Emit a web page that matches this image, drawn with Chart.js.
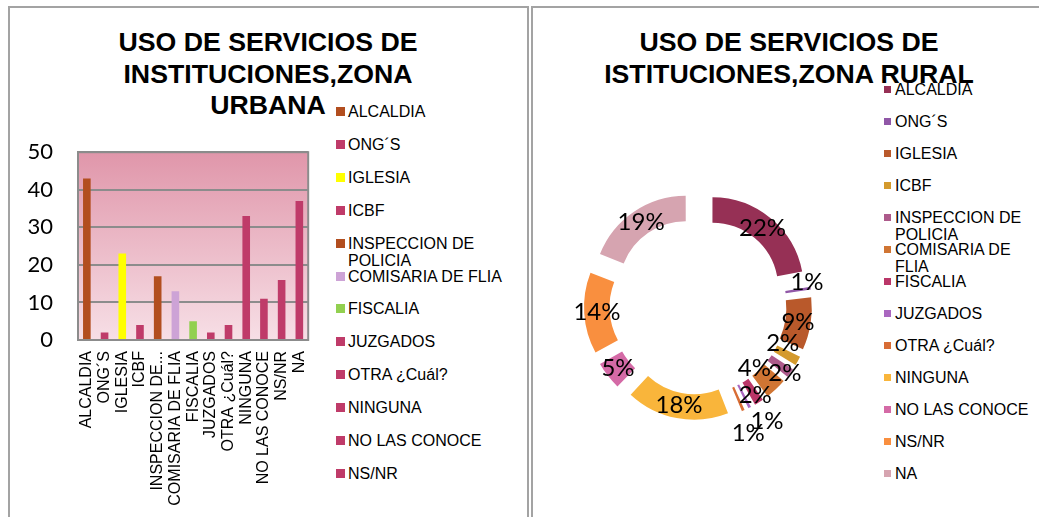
<!DOCTYPE html>
<html lang="es">
<head>
<meta charset="utf-8">
<title>Uso de servicios de instituciones</title>
<script src="https://cdn.jsdelivr.net/npm/chart.js@4.4.1/dist/chart.umd.min.js"></script>
<style>
  html, body { margin: 0; padding: 0; background: #fff; overflow: hidden; }
  body { width: 1039px; height: 517px; position: relative; font-family: "Liberation Sans", Arial, sans-serif; }
  .panel { position: absolute; top: 6px; height: 600px; border: 2px solid #a3a3a3; border-bottom: none; }
  #panel-urbana { left: 8px; width: 517px; }
  #panel-rural { left: 531px; width: 600px; }
  .title { position: absolute; top: 27px; width: 440px; text-align: center; font-weight: bold;
           font-size: 26.7px; line-height: 31.5px; color: #000; }
  canvas { position: absolute; }
  .legend { position: absolute; font-size: 16px; line-height: 17px; color: #000; }
  .legend .item { position: absolute; left: 0; display: flex; align-items: flex-start; }
  .legend .sw { flex: none; }
</style>
</head>
<body>
<div class="panel" id="panel-urbana"></div>
<div class="panel" id="panel-rural"></div>

<div class="title" style="left:48px">USO DE SERVICIOS DE<br>INSTITUCIONES,ZONA<br>URBANA</div>
<div class="title" style="left:569px">USO DE SERVICIOS DE<br>ISTITUCIONES,ZONA RURAL</div>

<canvas id="urbana" width="330" height="403" style="left:0;top:114px"></canvas>
<canvas id="rural" width="316" height="312" style="left:540px;top:150px"></canvas>

<div class="legend" id="legend-urbana" style="left:336px;top:103px;width:172px"></div>
<div class="legend" id="legend-rural" style="left:884px;top:81px;width:150px"></div>

<script>
// categorias (mismas en las dos zonas)
const categories = ['ALCALDIA', 'ONG´S', 'IGLESIA', 'ICBF', 'INSPECCION DE POLICIA', 'COMISARIA DE FLIA',
  'FISCALIA', 'JUZGADOS', 'OTRA ¿Cuál?', 'NINGUNA', 'NO LAS CONOCE', 'NS/NR', 'NA'];

// zona urbana: numero de personas
const urbanValues = [43, 2, 23, 4, 17, 13, 5, 2, 4, 33, 11, 16, 37];
const urbanTicks = [0, 10, 20, 30, 40, 50];

// zona rural: porcentaje
const ruralValues = [22, 1, 9, 2, 2, 4, 2, 1, 1, 18, 5, 14, 19];

const PINK = '#bf3b69';
const urbanColors = ['#b24e1f', PINK, '#ffff00', PINK, '#b24e1f', '#cda3d6', '#92d050',
  PINK, PINK, PINK, PINK, PINK, PINK];
const ruralColors = ['#963055', '#9057a7', '#b9592b', '#d49a2d', '#ad5a8b', '#d07533', '#ba3668',
  '#aa67c0', '#d86d35', '#f9b53b', '#d46aa6', '#f98f3f', '#d6a4b0'];

// separacion de las porciones del anillo (px)
const EXPLODE = 23;
// ajuste de algunas etiquetas pequeñas que se solapan
const labelNudge = [[0, 0], [9, -8], [0, 0], [-4, -12], [5, 8], [-13, -12], [3, 4],
  [23, 25], [10, 34], [0, 0], [0, 0], [0, 0], [0, 0]];

function buildLegend(el, names, colors, step, sw, gap) {
  names.forEach((name, i) => {
    const item = document.createElement('div');
    item.className = 'item';
    item.style.top = (i * step) + 'px';
    const box = document.createElement('span');
    box.className = 'sw';
    box.style.cssText = `width:${sw}px;height:${sw}px;margin-top:${(17 - sw) / 2}px;margin-right:${gap}px;background:${colors[i]}`;
    const txt = document.createElement('span');
    txt.textContent = name;
    item.appendChild(box);
    item.appendChild(txt);
    el.appendChild(item);
  });
}

// fondo degradado y marco del area del grafico de barras
const plotFrame = {
  id: 'plotFrame',
  beforeDraw(chart) {
    const { ctx, chartArea: a } = chart;
    const g = ctx.createLinearGradient(0, a.top, 0, a.bottom);
    g.addColorStop(0, '#e096aa');
    g.addColorStop(1, '#f7dfe6');
    ctx.save();
    ctx.fillStyle = g;
    ctx.fillRect(a.left, a.top, a.width, a.height);
    ctx.restore();
  },
  beforeDatasetsDraw(chart) {
    const { ctx, chartArea: a } = chart;
    ctx.save();
    ctx.strokeStyle = '#8c8c8c';
    ctx.lineWidth = 2;
    ctx.strokeRect(a.left, a.top, a.width, a.height);
    ctx.restore();
  }
};

// porcentajes sobre cada porcion
const pctLabels = {
  id: 'pctLabels',
  afterDatasetsDraw(chart) {
    const { ctx } = chart;
    const data = chart.data.datasets[0].data;
    const total = data.reduce((a, b) => a + b, 0);
    ctx.save();
    ctx.font = '24px Lato';
    ctx.fillStyle = '#000';
    ctx.textAlign = 'center';
    ctx.textBaseline = 'middle';
    chart.getDatasetMeta(0).data.forEach((arc, i) => {
      const p = arc.getProps(['x', 'y', 'startAngle', 'endAngle', 'innerRadius', 'outerRadius'], true);
      const mid = (p.startAngle + p.endAngle) / 2;
      const r = (p.innerRadius + p.outerRadius) / 2 + EXPLODE;
      const [dx, dy] = labelNudge[i];
      ctx.fillText(Math.round(data[i] / total * 100) + '%',
        p.x + Math.cos(mid) * r + dx, p.y + Math.sin(mid) * r + dy);
    });
    ctx.restore();
  }
};

function draw() {
  Chart.defaults.font.family = '"Liberation Sans", Arial, sans-serif';
  Chart.defaults.color = '#000';

  new Chart(document.getElementById('urbana'), {
    type: 'bar',
    data: {
      labels: categories,
      datasets: [{
        data: urbanValues,
        backgroundColor: urbanColors,
        barPercentage: 0.43,
        categoryPercentage: 1
      }]
    },
    options: {
      responsive: false,
      animation: false,
      events: [],
      layout: { padding: { top: 12, right: 12, left: 0, bottom: 0 } },
      plugins: { legend: { display: false }, tooltip: { enabled: false } },
      scales: {
        y: {
          min: urbanTicks[0],
          max: urbanTicks[urbanTicks.length - 1],
          afterBuildTicks: s => { s.ticks = urbanTicks.map(v => ({ value: v })); },
          afterFit: s => { s.width = 78; },
          ticks: { font: { family: 'Lato', size: 22 }, color: '#000', padding: 25 },
          grid: { color: '#8c8c8c', lineWidth: 2, drawTicks: false },
          border: { color: '#8c8c8c', width: 2 }
        },
        x: {
          afterFit: s => { s.height = 177; },
          ticks: {
            minRotation: 90, maxRotation: 90, autoSkip: false, padding: 11,
            font: { size: 16 }, color: '#000',
            callback: function (v) {
              const t = this.getLabelForValue(v);
              return t.length > 18 ? t.slice(0, 13) + '...' : t;
            }
          },
          grid: { display: false, drawTicks: false },
          border: { color: '#8c8c8c', width: 2 }
        }
      }
    },
    plugins: [plotFrame]
  });

  new Chart(document.getElementById('rural'), {
    type: 'doughnut',
    data: {
      labels: categories,
      datasets: [{
        data: ruralValues,
        backgroundColor: ruralColors,
        borderWidth: 0,
        // chart.js empuja mas las porciones pequeñas; se compensa para un desplazamiento uniforme
        offset: ctx => {
          const d = ctx.dataset.data;
          const total = d.reduce((a, b) => a + b, 0);
          const ang = d[ctx.dataIndex] / total * Math.PI * 2;
          const fix = 1 - Math.sin(Math.min(Math.PI, ang));
          return 4 * EXPLODE / (1 + fix);
        }
      }]
    },
    options: {
      responsive: false,
      animation: false,
      events: [],
      radius: 91,
      cutout: '72%',
      layout: { padding: 0 },
      plugins: { legend: { display: false }, tooltip: { enabled: false } }
    },
    plugins: [pctLabels]
  });

  buildLegend(document.getElementById('legend-urbana'), categories.slice(0, 12), urbanColors, 32.9, 9, 3);
  buildLegend(document.getElementById('legend-rural'), categories, ruralColors, 32, 7, 4);
}

Promise.all([document.fonts.load('22px Lato'), document.fonts.load('16px "Liberation Sans"')])
  .then(draw, draw);
</script>
</body>
</html>
